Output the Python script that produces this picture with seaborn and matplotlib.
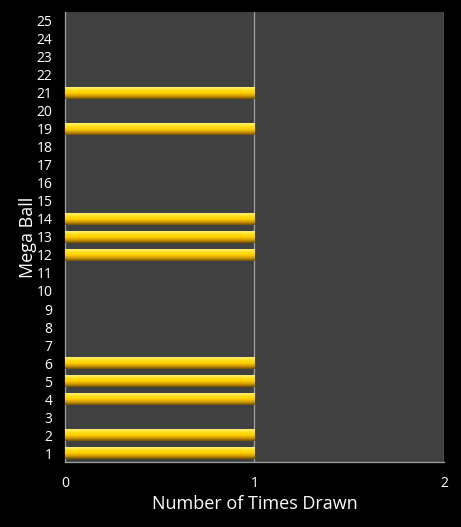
import numpy as np
import pandas as pd
import matplotlib
matplotlib.use("Agg")
import matplotlib.pyplot as plt
from matplotlib.colors import LinearSegmentedColormap
import seaborn as sns

balls = list(range(1, 26))
drawn = [1, 2, 4, 5, 6, 12, 13, 14, 19, 21]
times_drawn = [1 if b in drawn else 0 for b in balls]
x_ticks = [0, 1, 2]

df = pd.DataFrame({"ball": [str(b) for b in balls], "times": times_drawn})
order = [str(b) for b in balls][::-1]

sns.set_theme(style="dark")
plt.rcParams["font.family"] = ["Open Sans", "DejaVu Sans"]

fig = plt.figure(figsize=(4.61, 5.27), dpi=100, facecolor="black")
ax = fig.add_axes([0.141, 0.1233, 0.822, 0.854])
ax.set_facecolor("#404040")

sns.barplot(data=df, x="times", y="ball", order=order, orient="h",
            color="#FFD700", width=0.62, ax=ax, zorder=3)

# golden gradient on each bar, bright on top, darker below
grad = LinearSegmentedColormap.from_list(
    "gold", ["#6e5000", "#d09a00", "#ffcf00", "#ffe01a", "#fff07a"])
g = np.linspace(1, 0, 64).reshape(-1, 1)
for p in list(ax.patches):
    p.set_edgecolor("none")
    p.set_linewidth(0)
    w = p.get_width()
    if w <= 0:
        p.set_visible(False)
        continue
    x0, y0 = p.get_x(), p.get_y()
    h = p.get_height()
    p.set_facecolor("none")
    im = ax.imshow(g, cmap=grad, vmin=0, vmax=1, aspect="auto", origin="upper",
                   extent=[x0, x0 + w, y0 + h, y0], zorder=3)
    im.set_clip_path(p)

ax.set_xlim(0, 2)
ax.set_ylim(24.5, -0.5)
ax.set_xticks(x_ticks)
ax.set_xticklabels([str(t) for t in x_ticks])
ax.grid(False)
for t in x_ticks[1:]:
    ax.axvline(t, color="#a0a0a0", lw=0.9, zorder=2)

for s in ["top", "right"]:
    ax.spines[s].set_visible(False)
for s in ["left", "bottom"]:
    ax.spines[s].set_visible(True)
    ax.spines[s].set_color("#a0a0a0")
    ax.spines[s].set_linewidth(0.9)

ax.tick_params(axis="y", colors="white", labelsize=10, pad=9, length=0)
ax.tick_params(axis="x", colors="white", labelsize=10, pad=10, length=0)
ax.set_xlabel("Number of Times Drawn", color="white", fontsize=13, labelpad=3)
ax.set_ylabel("Mega Ball", color="white", fontsize=13, labelpad=0)

fig.savefig("out.png", dpi=100, facecolor="black")
